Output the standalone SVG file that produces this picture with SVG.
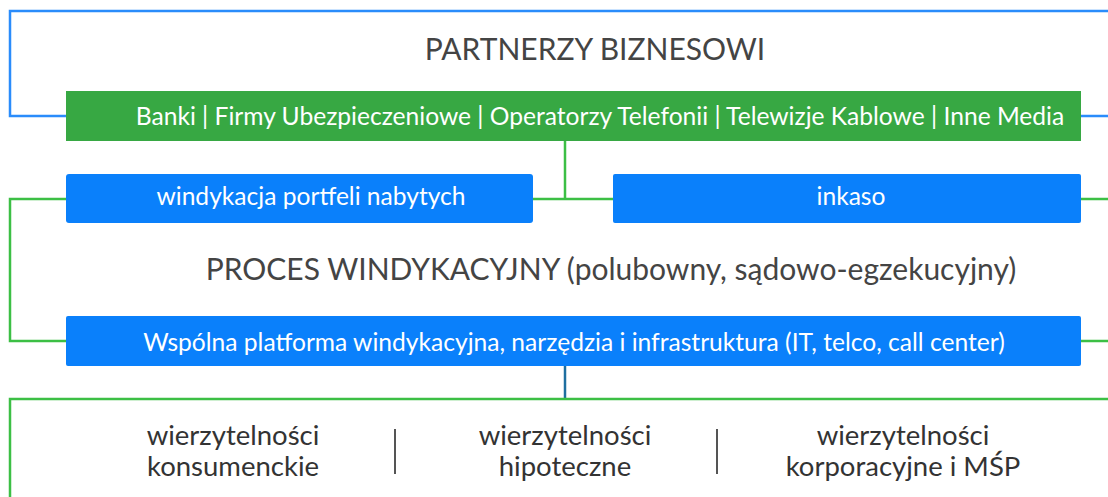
<svg xmlns="http://www.w3.org/2000/svg" width="1108" height="497" viewBox="0 0 1108 497">
<style>
.lineB{fill:none;stroke:#2a8cfb;stroke-width:2.5}
.lineG{fill:none;stroke:#3cbf45;stroke-width:2.5}
.lineT{fill:none;stroke:#1e6fa0;stroke-width:2.5}
.sep{stroke:#555;stroke-width:2}
.boxB{fill:#0a80fb}
.boxG{fill:#37a843}
.head{font-family:Lato,"Liberation Sans",sans-serif;font-size:30px;fill:#444;text-anchor:middle}
.btxt{font-family:Lato,"Liberation Sans",sans-serif;font-size:24.6px;fill:#fff;text-anchor:middle}
.low{font-family:Lato,"Liberation Sans",sans-serif;font-size:27.5px;fill:#333;text-anchor:middle}
</style>
<rect width="1108" height="497" fill="#fff"/>
<g id="connectors">
<path class="lineB" d="M66 116 H10 V11 H1120"/>
<path class="lineB" d="M1081 116 H1120"/>
<path class="lineG" d="M565 141 V199 M533 199 H613"/>
<path class="lineG" d="M66 199 H10 V341 H66"/>
<path class="lineG" d="M1081 199 H1120 M1081 341 H1120"/>
<path class="lineT" d="M565 366 V399"/>
<path class="lineG" d="M1120 399 H10 V500"/>
</g>
<g id="title-partnerzy"><text class="head" x="595" y="60">PARTNERZY BIZNESOWI</text></g>
<g id="partnerzy"><rect class="boxG" x="66" y="91" width="1015" height="50"/><text class="btxt" x="600" y="125">Banki | Firmy Ubezpieczeniowe | Operatorzy Telefonii | Telewizje Kablowe | Inne Media</text></g>
<g id="windykacja"><rect class="boxB" x="66" y="174" width="467" height="49" rx="3"/><text class="btxt" x="311" y="205">windykacja portfeli nabytych</text></g>
<g id="inkaso"><rect class="boxB" x="613" y="174" width="468" height="49" rx="2"/><text class="btxt" x="851" y="205">inkaso</text></g>
<g id="title-proces"><text class="head" x="611" y="280">PROCES WINDYKACYJNY (polubowny, sądowo-egzekucyjny)</text></g>
<g id="platforma"><rect class="boxB" x="66" y="316" width="1015" height="50" rx="2"/><text class="btxt" x="574" y="351">Wspólna platforma windykacyjna, narzędzia i infrastruktura (IT, telco, call center)</text></g>
<g id="konsumenckie"><text class="low" x="233" y="445">wierzytelności</text><text class="low" x="233" y="476">konsumenckie</text></g>
<g id="sep1"><line class="sep" x1="395" y1="429" x2="395" y2="474"/></g>
<g id="hipoteczne"><text class="low" x="565" y="445">wierzytelności</text><text class="low" x="565" y="476">hipoteczne</text></g>
<g id="sep2"><line class="sep" x1="717" y1="429" x2="717" y2="474"/></g>
<g id="korporacyjne"><text class="low" x="903" y="445">wierzytelności</text><text class="low" x="903" y="476">korporacyjne i MŚP</text></g>
</svg>
